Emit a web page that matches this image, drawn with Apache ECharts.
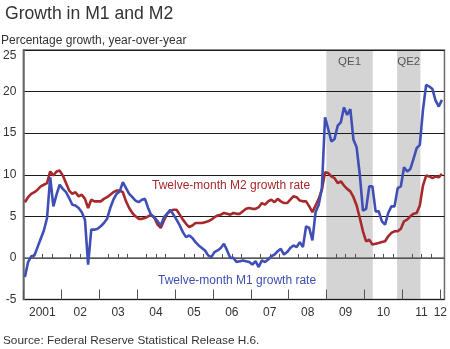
<!DOCTYPE html>
<html>
<head>
<meta charset="utf-8">
<script src="https://cdn.jsdelivr.net/npm/echarts@6/dist/echarts.min.js"></script>
<style>
  html, body { margin: 0; padding: 0; background: #ffffff; }
  #chart { width: 450px; height: 349px; }
</style>
</head>
<body>
<div id="chart"></div>
<script>
// Month index 0 = January 2001; each value is plotted at the middle of its month.
const yearLabels = ['2001', '02', '03', '04', '05', '06', '07', '08', '09', '10', '11', '12'];

// Twelve-month growth rate of M1, percent, Jan 2001 - Jan 2012
const m1Growth = [
  -2.3, -0.5, 0.2, 0.3, 1.3, 2.3, 3.3, 4.8, 9.7, 6.2,
  7.6, 8.8, 8.3, 7.9, 7.2, 6.4, 6.3, 6.0, 5.5, 4.6,
  -0.8, 3.4, 3.4, 3.5, 3.8, 4.2, 4.7, 6.0, 7.0, 7.7,
  8.0, 9.1, 8.4, 7.7, 7.3, 6.9, 6.7, 7.0, 7.1, 6.0,
  5.1, 4.9, 4.4, 3.9, 4.9, 5.3, 5.8, 5.2, 4.6, 3.9,
  3.1, 2.5, 2.7, 2.4, 1.9, 1.5, 1.2, 0.9, 0.3, 0.1,
  0.7, 0.9, 1.2, 1.7, 0.9, 0.0, 0.0, -0.5, -0.4, -0.3,
  -0.4, -0.5, -0.8, -0.4, -1.1, -0.3, -0.5, -0.2, 0.2, 0.4,
  0.8, 1.1, 0.4, 0.7, 1.2, 1.5, 1.3, 1.9, 1.3, 3.8,
  3.6, 2.1, 5.5, 6.4, 8.4, 16.9, 15.5, 14.0, 14.3, 15.9,
  16.3, 18.1, 17.2, 17.9, 14.2, 13.3, 10.0, 5.7, 5.9, 8.6,
  8.6, 5.6, 5.6, 4.4, 4.0, 5.4, 6.2, 6.2, 8.4, 8.6,
  10.9, 10.4, 10.7, 11.9, 13.2, 13.6, 17.8, 20.8, 20.6, 20.3,
  18.9, 18.2, 19.0
];

// Twelve-month growth rate of M2, percent, Jan 2001 - Jan 2012
const m2Growth = [
  6.7, 7.3, 7.7, 7.9, 8.2, 8.6, 8.8, 9.0, 10.4, 9.9,
  10.4, 10.5, 9.9, 9.0, 8.1, 7.7, 7.9, 7.4, 7.6, 7.1,
  6.0, 7.0, 6.8, 6.8, 6.8, 7.1, 7.3, 7.6, 7.9, 8.1,
  8.1, 7.9, 6.8, 6.0, 5.4, 5.0, 4.7, 4.7, 4.8, 5.0,
  5.2, 4.8, 4.0, 3.6, 4.5, 5.3, 5.6, 5.8, 5.8, 5.2,
  4.6, 4.1, 3.7, 3.9, 4.2, 4.2, 4.2, 4.3, 4.4, 4.6,
  4.9, 5.1, 5.2, 5.4, 5.3, 5.2, 5.4, 5.3, 5.3, 5.6,
  5.9, 6.0, 5.9, 5.9, 6.1, 6.6, 6.4, 6.8, 7.0, 6.7,
  7.1, 6.8, 6.6, 6.6, 7.0, 7.4, 7.3, 6.9, 6.8, 6.8,
  6.2, 5.5, 6.3, 7.1, 8.2, 10.3, 10.2, 9.8, 9.6, 9.0,
  9.2, 8.7, 8.3, 8.0, 7.3, 6.3, 4.8, 3.2, 2.0, 2.2,
  1.6, 1.7, 1.8, 1.9, 2.0, 2.6, 3.0, 3.2, 3.2, 3.5,
  4.4, 4.6, 5.0, 5.3, 5.4, 6.3, 8.7, 9.9, 9.8, 9.6,
  9.8, 9.7, 10.1
];

// Quantitative easing programs (month index of start and end)
const qeNames = ['QE1', 'QE2'];
const qeStart = [95.9, 118.3];
const qeEnd = [110.6, 125.7];

const xMax = 133.3;
const fontFamily = '"Liberation Sans", Arial, sans-serif';
const textColor = '#333333';

const toPoints = vals => vals.map((v, i) => [i + 0.5, v]);

// Year labels sit mid-year, except the final partial year which sits on its boundary
const labelValues = yearLabels.map((_, i) => i < yearLabels.length - 1 ? i * 12 + 6 : i * 12);
const labelText = {};
labelValues.forEach((v, i) => { labelText[v] = yearLabels[i]; });
const majorTicks = [];
const minorTicks = [];
for (let m = 0; m <= 132; m += 3) {
  if (m % 12 === 0) majorTicks.push(m); else minorTicks.push(m);
}

const chart = echarts.init(document.getElementById('chart'), null, { renderer: 'canvas' });
chart.setOption({
  animation: false,
  backgroundColor: '#ffffff',
  textStyle: { fontFamily: fontFamily },
  title: {
    text: 'Growth in M1 and M2',
    left: 0,
    top: 0,
    textStyle: { fontSize: 17.6, fontWeight: 'normal', color: textColor, fontFamily: fontFamily }
  },
  grid: {
    left: 20.8, right: 5, top: 50, bottom: 49.5,
    show: true, borderColor: '#6a6a6a', borderWidth: 1.5,
    backgroundColor: 'transparent', z: 2
  },
  xAxis: [
    {
      type: 'value', min: 0, max: xMax, z: 2,
      axisLine: { show: true, lineStyle: { color: '#6a6a6a', width: 1.5 } },
      axisTick: { show: true, inside: true, length: 4, customValues: minorTicks, lineStyle: { color: '#555555', width: 1 } },
      axisLabel: {
        show: true, customValues: labelValues, margin: 7,
        color: textColor, fontSize: 12, fontFamily: fontFamily,
        formatter: v => labelText[v] || ''
      },
      splitLine: { show: false }
    },
    {
      type: 'value', min: 0, max: xMax, position: 'bottom', z: 2,
      axisLine: { show: false },
      axisTick: { show: true, inside: true, length: 10, customValues: majorTicks, lineStyle: { color: '#555555', width: 1 } },
      axisLabel: { show: false },
      splitLine: { show: false }
    }
  ],
  yAxis: {
    type: 'value', min: -5, max: 25, interval: 5, z: 2,
    axisLine: { show: true, lineStyle: { color: '#6a6a6a', width: 1.5 } },
    axisTick: { show: false },
    axisLabel: {
      color: textColor, fontSize: 12, margin: 7, fontFamily: fontFamily,
      verticalAlignMaxLabel: 'top'
    },
    splitLine: { show: true, lineStyle: { color: '#1a1a1a', width: 1 } }
  },
  series: [
    {
      name: 'QE periods',
      type: 'line',
      data: [],
      z: 1,
      silent: true,
      markArea: {
        silent: true,
        itemStyle: { color: '#d4d4d4' },
        label: {
          show: true, position: 'insideTop', distance: 6,
          color: '#555555', fontSize: 11.5, fontFamily: fontFamily
        },
        data: qeNames.map((n, i) => [{ name: n, xAxis: qeStart[i] }, { xAxis: qeEnd[i] }])
      }
    },
    {
      name: 'Twelve-month M2 growth rate',
      type: 'line',
      data: toPoints(m2Growth),
      z: 3,
      showSymbol: false,
      lineStyle: { color: '#a8292b', width: 2.6 },
      itemStyle: { color: '#a8292b' }
    },
    {
      name: 'Twelve-month M1 growth rate',
      type: 'line',
      data: toPoints(m1Growth),
      z: 4,
      showSymbol: false,
      lineStyle: { color: '#3f4fb6', width: 2.6 },
      itemStyle: { color: '#3f4fb6' }
    }
  ],
  graphic: [
    {
      type: 'text', left: 1, top: 35, silent: true,
      style: { text: 'Percentage growth, year-over-year', fill: textColor, fontSize: 12, fontFamily: fontFamily }
    },
    {
      type: 'text', left: 152, top: 180, silent: true, z: 10,
      style: { text: 'Twelve-month M2 growth rate', fill: '#a8292b', fontSize: 12, fontFamily: fontFamily }
    },
    {
      type: 'text', left: 158, top: 275, silent: true, z: 10,
      style: { text: 'Twelve-month M1 growth rate', fill: '#3f4fb6', fontSize: 12, fontFamily: fontFamily }
    },
    {
      type: 'text', left: 3, top: 335, silent: true,
      style: { text: 'Source: Federal Reserve Statistical Release H.6.', fill: textColor, fontSize: 11.8, fontFamily: fontFamily }
    }
  ]
});
</script>
</body>
</html>
